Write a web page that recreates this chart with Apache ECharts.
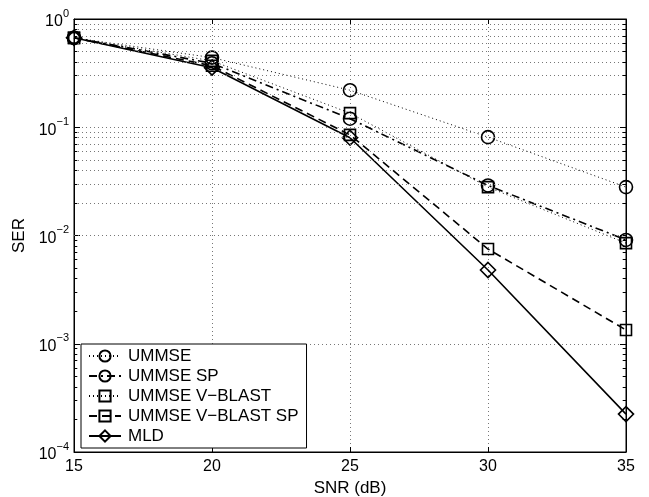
<!DOCTYPE html>
<html>
<head>
<meta charset="utf-8">
<script src="https://cdn.jsdelivr.net/npm/echarts@6/dist/echarts.min.js"></script>
<style>
  html, body { margin: 0; padding: 0; background: #fff; }
  #chart { width: 649px; height: 497px; }
</style>
</head>
<body>
<div id="chart"></div>
<script>
// SNR 横轴
var snr = [15, 20, 25, 30, 35];
// 各曲线 SER
var ummse = [0.67, 0.44, 0.22, 0.081, 0.028];
var ummseSp = [0.67, 0.39, 0.12, 0.029, 0.0091];
var vblast = [0.67, 0.41, 0.135, 0.028, 0.0085];
var vblastSp = [0.67, 0.37, 0.085, 0.0075, 0.00134];
var mld = [0.67, 0.355, 0.08, 0.0048, 0.000224];
var names = ['UMMSE', 'UMMSE SP', 'UMMSE V\u2212BLAST', 'UMMSE V\u2212BLAST SP', 'MLD'];
// 对数网格的次刻度 2..9
var minorMult = [2, 3, 4, 5, 6, 7, 8, 9];
var decades = [1e-4, 1e-3, 1e-2, 1e-1];

var fontFamily = '"Liberation Sans", Arial, sans-serif';
var gridLine = { color: '#777', width: 1, type: [1, 3] };

function pairs(ys) {
  return snr.map(function (x, i) { return [x, ys[i]]; });
}

function makeSeries(name, ys, symbol, size, lineType, lineWidth) {
  return {
    name: name,
    type: 'line',
    data: pairs(ys),
    symbol: symbol,
    symbolSize: size,
    showAllSymbol: true,
    itemStyle: { color: 'rgba(0,0,0,0)', borderColor: '#000', borderWidth: 1.6 },
    lineStyle: { color: '#000', width: lineWidth, type: lineType },
    emphasis: { disabled: true },
    z: 3
  };
}

function renderChart() {
  var container = document.getElementById('chart');
  var myChart = echarts.init(container, null, { renderer: 'canvas' });

  var minorVals = [];
  var minorTicks = [];
  decades.forEach(function (d) {
    minorMult.forEach(function (m) {
      var v = d * m;
      minorVals.push({ yAxis: v });
      // 左右两侧的短刻度
      minorTicks.push([{ coord: [15, v] }, { coord: [15.12, v] }]);
      minorTicks.push([{ coord: [34.88, v] }, { coord: [35, v] }]);
    });
  });

  var expLabel = function (v) {
    var e = Math.round(Math.log10(v));
    return '{b|10}{s|' + (e < 0 ? '\u2212' + (-e) : e) + '}';
  };

  var options = {
    backgroundColor: '#fff',
    animation: false,
    textStyle: { fontFamily: fontFamily },
    grid: {
      left: 74, right: 23, top: 19, bottom: 45,
      outerBoundsMode: 'none', containLabel: false,
      show: true, borderColor: '#000', borderWidth: 1
    },
    legend: {
      orient: 'vertical',
      left: 81, top: 344,
      padding: [3, 8, 3, 7],
      itemWidth: 32, itemHeight: 14, itemGap: 2,
      backgroundColor: '#fff',
      borderColor: '#000', borderWidth: 1,
      textStyle: { fontSize: 17, lineHeight: 18, color: '#000', fontFamily: fontFamily, padding: [0, 0, 0, 2] },
      data: names
    },
    xAxis: [{
      type: 'value', min: 15, max: 35, interval: 5,
      name: 'SNR (dB)', nameLocation: 'middle', nameGap: 27,
      nameTextStyle: { fontSize: 17, color: '#000', fontFamily: fontFamily },
      axisLine: { lineStyle: { color: '#000', width: 1 } },
      axisTick: { inside: true, length: 5, lineStyle: { color: '#000' } },
      axisLabel: { fontSize: 16, color: '#000', margin: 7, fontFamily: fontFamily },
      splitLine: { show: true, lineStyle: gridLine }
    }, {
      type: 'value', min: 15, max: 35, interval: 5, position: 'top',
      axisLine: { lineStyle: { color: '#000' } },
      axisTick: { inside: true, length: 5, lineStyle: { color: '#000' } },
      axisLabel: { show: false },
      splitLine: { show: false }
    }],
    yAxis: [{
      type: 'log', logBase: 10, min: 1e-4, max: 1,
      name: 'SER', nameLocation: 'middle', nameGap: 40,
      nameTextStyle: { fontSize: 17, color: '#000', fontFamily: fontFamily },
      axisLine: { lineStyle: { color: '#000', width: 1 } },
      axisTick: { inside: true, length: 6, lineStyle: { color: '#000' } },
      axisLabel: {
        margin: 5,
        formatter: expLabel,
        rich: {
          b: { fontSize: 16, color: '#000', fontFamily: fontFamily, lineHeight: 22, verticalAlign: 'bottom' },
          s: { fontSize: 11, color: '#000', fontFamily: fontFamily, lineHeight: 22, verticalAlign: 'top' }
        }
      },
      splitLine: { show: true, lineStyle: gridLine }
    }, {
      type: 'log', logBase: 10, min: 1e-4, max: 1, position: 'right',
      axisLine: { lineStyle: { color: '#000' } },
      axisTick: { inside: true, length: 6, lineStyle: { color: '#000' } },
      axisLabel: { show: false },
      splitLine: { show: false }
    }],
    series: [
      {
        name: 'minorGrid', type: 'line', data: [],
        silent: true, z: 1,
        markLine: {
          silent: true, symbol: 'none', label: { show: false },
          lineStyle: gridLine, animation: false,
          data: minorVals
        }
      },
      {
        name: 'minorTick', type: 'line', data: [],
        silent: true, z: 2,
        markLine: {
          silent: true, symbol: 'none', label: { show: false },
          lineStyle: { color: '#000', width: 1, type: 'solid' }, animation: false,
          data: minorTicks
        }
      },
      makeSeries(names[0], ummse, 'circle', 13, [1, 3], 1),
      makeSeries(names[1], ummseSp, 'circle', 13, [8, 4, 2, 4], 1.6),
      makeSeries(names[2], vblast, 'rect', 11, [1, 3], 1),
      makeSeries(names[3], vblastSp, 'rect', 11, [8, 5], 1.6),
      makeSeries(names[4], mld, 'diamond', 15, 'solid', 1.6)
    ]
  };

  myChart.setOption(options, true);
}

renderChart();
</script>
</body>
</html>
